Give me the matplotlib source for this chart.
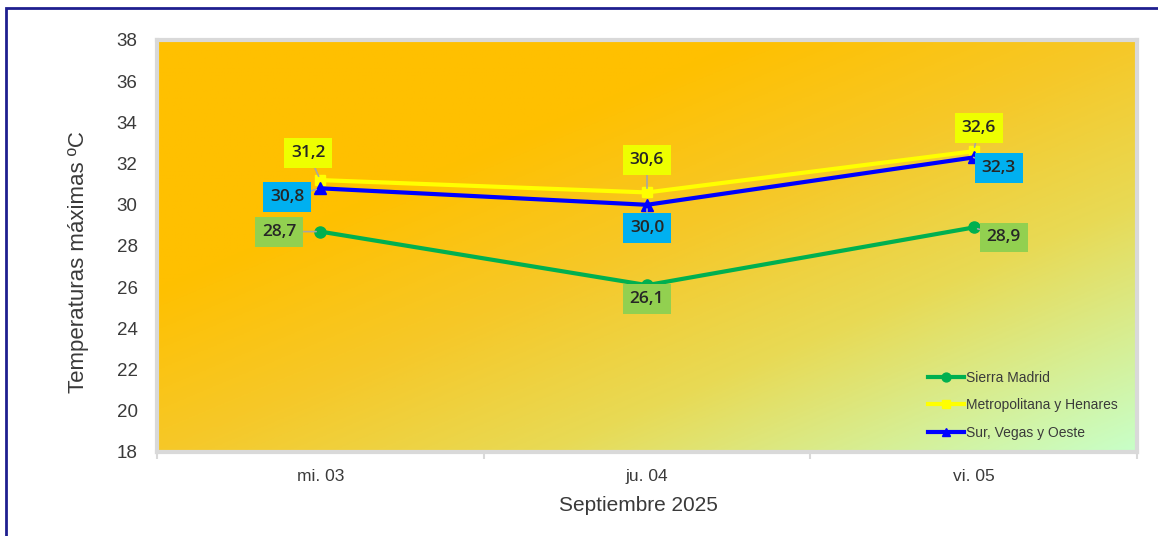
import numpy as np
import matplotlib
matplotlib.use("Agg")
import matplotlib.pyplot as plt
from matplotlib.colors import LinearSegmentedColormap
from matplotlib.patches import Rectangle

# datos
dias = ["mi. 03", "ju. 04", "vi. 05"]
sierra = [28.7, 26.1, 28.9]
metropolitana = [31.2, 30.6, 32.6]
sur = [30.8, 30.0, 32.3]
yticks = [18, 20, 22, 24, 26, 28, 30, 32, 34, 36, 38]

plt.rcParams['font.family'] = ['Liberation Sans', 'DejaVu Sans']

fig = plt.figure(figsize=(11.58, 5.36), dpi=100)
ax = fig.add_axes([157/1158, 1 - 452/536, 980/1158, 412/536])

# fondo degradado naranja -> verde claro
cmap = LinearSegmentedColormap.from_list("fondo", [
    (0.0, "#FFC000"), (0.3, "#FFC000"), (0.5, "#F6C828"),
    (0.7, "#E8DA55"), (1.0, "#C8FFC8")])
gx, gy = np.meshgrid(np.linspace(0, 1, 300), np.linspace(0, 1, 300))
grad = (gx + gy) / 2
ax.imshow(grad, cmap=cmap, extent=[0, 1, 0, 1], transform=ax.transAxes,
          aspect="auto", origin="upper", zorder=0, vmin=0, vmax=1)

x = np.arange(len(dias))
ax.plot(x, sierra, color="#00B050", lw=3, marker="o", ms=8, label="Sierra Madrid", zorder=3)
ax.plot(x, metropolitana, color="#FFFF00", lw=3, marker="s", ms=7, label="Metropolitana y Henares", zorder=3)
ax.plot(x, sur, color="#0000FF", lw=3, marker="^", ms=8, label="Sur, Vegas y Oeste", zorder=4)

# etiquetas de datos (desplazamiento en pixeles)
def etiqueta(xv, yv, dx, dy, fc):
    ax.annotate(f"{yv:.1f}".replace(".", ","), (xv, yv), xytext=(dx, dy),
                textcoords="offset pixels", ha="center", va="center",
                fontsize=12.5, fontweight="semibold", color="#262626",
                family=["Open Sans", "DejaVu Sans"],
                bbox=dict(boxstyle="square,pad=0.4", fc=fc, ec="none"),
                arrowprops=dict(arrowstyle="-", color="#A6A6A6", lw=1.2,
                                shrinkA=0, shrinkB=3),
                zorder=6)

offs_sierra = [(-41, 0), (0, -14), (30, -10)]
offs_metro = [(-12, 27), (0, 32), (5, 23)]
offs_sur = [(-33, -9), (0, -23), (25, -11)]
for i in range(3):
    etiqueta(x[i], sierra[i], *offs_sierra[i], "#92D050")
    etiqueta(x[i], metropolitana[i], *offs_metro[i], "#EEFF00")
    etiqueta(x[i], sur[i], *offs_sur[i], "#00B0F0")

ax.set_xlim(-0.5, 2.5)
ax.set_ylim(18, 38)
ax.set_yticks(yticks)
ax.set_xticks(x)
ax.set_xticklabels(dias)
ax.set_xticks([-0.5, 0.5, 1.5, 2.5], minor=True)
ax.tick_params(axis="x", which="major", length=0, pad=12, labelsize=12.5, labelcolor="#3A3A3A")
ax.tick_params(axis="x", which="minor", length=5, width=1.5, color="#D9D9D9", direction="out")
ax.tick_params(axis="y", length=0, pad=14, labelsize=13.5, labelcolor="#3A3A3A")
for s in ax.spines.values():
    s.set_color("#D9D9D9")
    s.set_linewidth(3)

ax.set_ylabel("Temperaturas máximas ºC", fontsize=16, color="#3A3A3A", va="center")
ax.yaxis.set_label_coords(-0.08, 0.461)
ax.set_xlabel("Septiembre 2025", fontsize=15, color="#3A3A3A", va="center")
ax.xaxis.set_label_coords(0.491, -0.129)

leg = ax.legend(loc="lower left", bbox_to_anchor=(0.787, 0.03), frameon=False,
                fontsize=10, handlelength=2.6, handletextpad=0.1, labelspacing=0.96,
                borderaxespad=0, borderpad=0, markerscale=0.8)
for t in leg.get_texts():
    t.set_color("#3A3A3A")

# borde exterior azul marino
fig.patches.append(Rectangle((6/1158, -0.1), 1.2, 1 - 8/536 + 0.1, transform=fig.transFigure,
                             fill=False, ec="#1F1F8F", lw=2))

fig.savefig("out.png", dpi=100)
